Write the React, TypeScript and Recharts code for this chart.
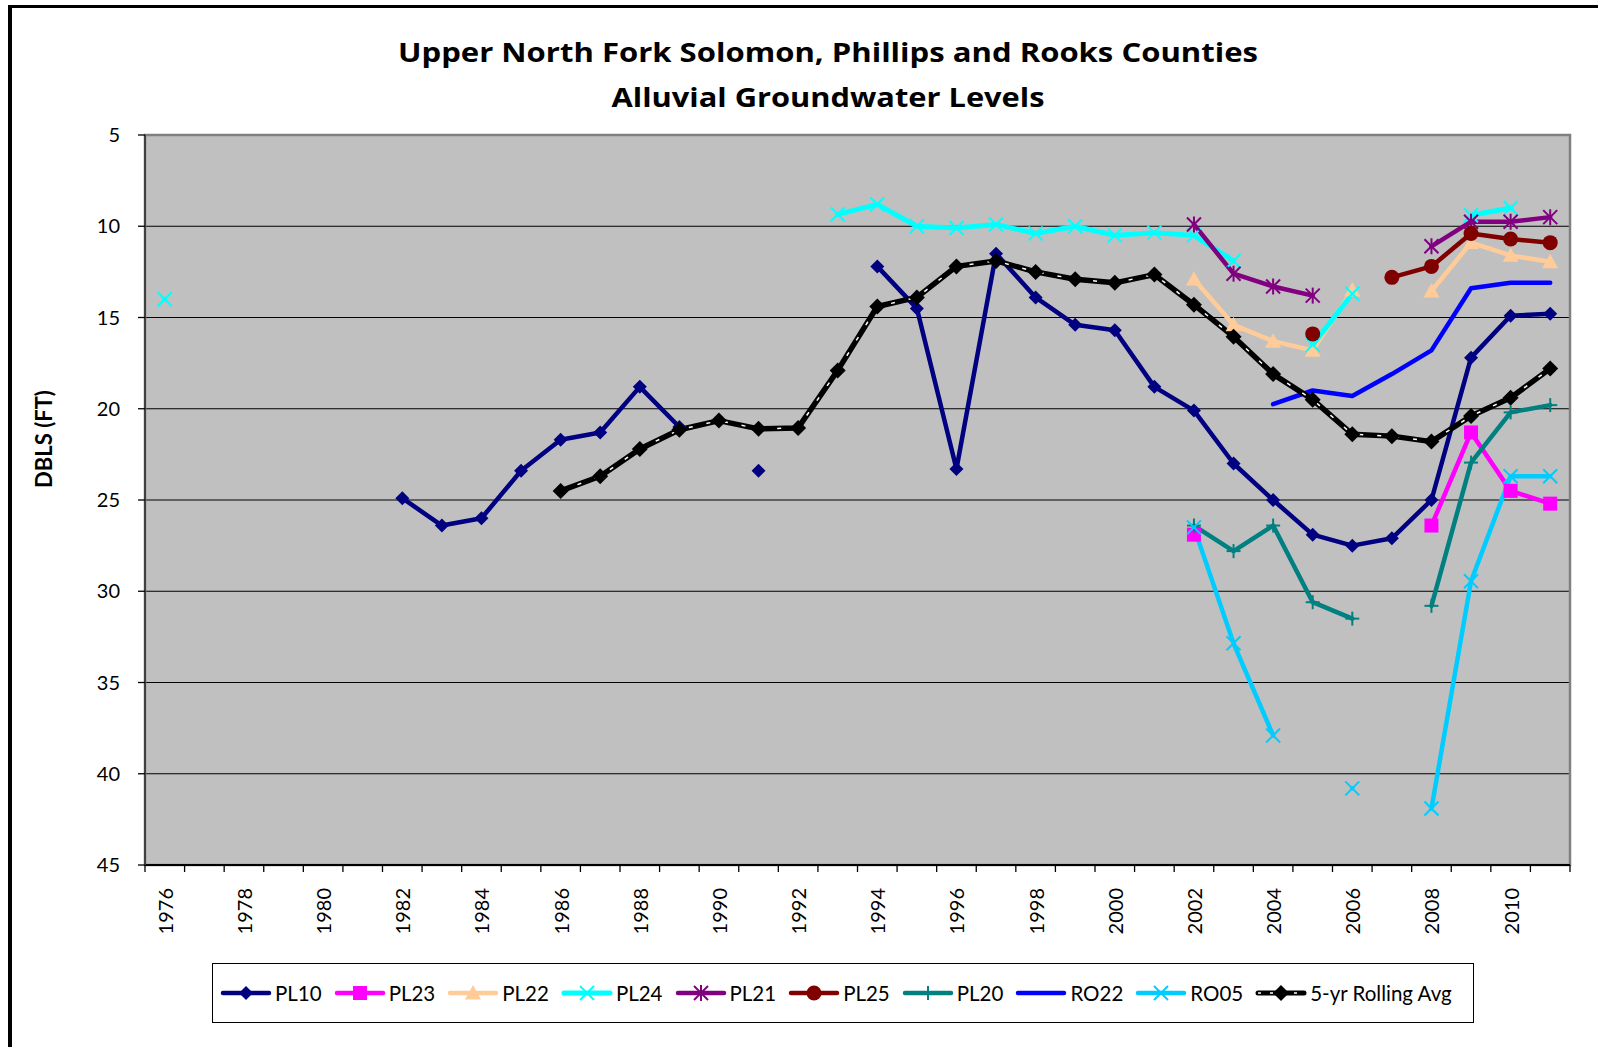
import React from 'react';
import { CartesianGrid, Line, LineChart, ReferenceArea, XAxis, YAxis } from 'recharts';

const years = [
  1976, 1977, 1978, 1979, 1980, 1981, 1982, 1983, 1984, 1985, 1986, 1987,
  1988, 1989, 1990, 1991, 1992, 1993, 1994, 1995, 1996, 1997, 1998, 1999,
  2000, 2001, 2002, 2003, 2004, 2005, 2006, 2007, 2008, 2009, 2010, 2011,
];

const yTicks = [5, 10, 15, 20, 25, 30, 35, 40, 45];

const n = null;

const pl10 = [
  n, n, n, n, n, n,
  24.9, 26.4, 26.0, 23.4,
  21.7, 21.3, 18.8, 21.0,
  n, 23.4, n, n,
  12.2, 14.5, 23.3, 11.5,
  13.9, 15.4, 15.7, 18.8,
  20.1, 23.0, 25.0, 26.9,
  27.5, 27.1, 25.0, 17.2,
  14.9, 14.8,
];

const pl23 = [
  n, n, n, n, n, n, n, n, n, n, n, n, n, n, n, n, n, n, n, n, n, n, n, n, n, n,
  26.9, n, n, n, n, n, 26.4, 21.3, 24.5, 25.2,
];

const pl22 = [
  n, n, n, n, n, n, n, n, n, n, n, n, n, n, n, n, n, n, n, n, n, n, n, n, n, n,
  12.9, 15.4, 16.3, 16.8, 13.5, n, 13.55, 10.9, 11.6, 11.95,
];

const pl24 = [
  14.0,
  n, n, n, n, n, n, n, n, n, n, n, n, n, n, n, n,
  9.35, 8.8, 10.0, 10.1, 9.9, 10.4, 10.0, 10.5, 10.35, 10.5, 11.9,
  n, 16.5, 13.7, n, n, 9.4, 9.0, n,
];

const pl21 = [
  n, n, n, n, n, n, n, n, n, n, n, n, n, n, n, n, n, n, n, n, n, n, n, n, n, n,
  9.9, 12.6, 13.3, 13.8, n, n, 11.1, 9.75, 9.75, 9.5,
];

const pl25 = [
  n, n, n, n, n, n, n, n, n, n, n, n, n, n, n, n, n, n, n, n, n, n, n, n, n, n, n, n, n,
  15.9, n, 12.8, 12.2, 10.4, 10.7, 10.9,
];

const pl20 = [
  n, n, n, n, n, n, n, n, n, n, n, n, n, n, n, n, n, n, n, n, n, n, n, n, n, n,
  26.4, 27.8, 26.4, 30.6, 31.5, n, 30.8, 22.95, 20.2, 19.8,
];

const ro22 = [
  n, n, n, n, n, n, n, n, n, n, n, n, n, n, n, n, n, n, n, n, n, n, n, n, n, n, n, n,
  19.75, 19.0, 19.3, 18.1, 16.8, 13.4, 13.1, 13.1,
];

const ro05 = [
  n, n, n, n, n, n, n, n, n, n, n, n, n, n, n, n, n, n, n, n, n, n, n, n, n, n,
  26.5, 32.85, 37.9, n, 40.8, n, 41.9, 29.45, 23.7, 23.7,
];

const rollingAvg = [
  n, n, n, n, n, n, n, n, n, n,
  24.5, 23.7, 22.2, 21.15, 20.65, 21.1, 21.05, 17.9, 14.4, 13.9, 12.2, 11.9,
  12.5, 12.9, 13.1, 12.65, 14.3, 16.05, 18.1, 19.5, 21.4, 21.5, 21.8, 20.4,
  19.4, 17.8,
];

type Kind = 'diamond' | 'square' | 'triangle' | 'x' | 'star' | 'circle' | 'plus' | 'none';

interface SeriesDef {
  key: string;
  name: string;
  values: (number | null)[];
  color: string;
  width: number;
  marker: Kind;
  size: number;
}

const series: SeriesDef[] = [
  { key: 'pl10', name: 'PL10', values: pl10, color: '#000080', width: 4.5, marker: 'diamond', size: 7 },
  { key: 'pl23', name: 'PL23', values: pl23, color: '#FF00FF', width: 4.5, marker: 'square', size: 7 },
  { key: 'pl22', name: 'PL22', values: pl22, color: '#FFCC99', width: 4.5, marker: 'triangle', size: 8 },
  { key: 'pl24', name: 'PL24', values: pl24, color: '#00FFFF', width: 5, marker: 'x', size: 7 },
  { key: 'pl21', name: 'PL21', values: pl21, color: '#800080', width: 4.5, marker: 'star', size: 7 },
  { key: 'pl25', name: 'PL25', values: pl25, color: '#800000', width: 4.5, marker: 'circle', size: 7.5 },
  { key: 'pl20', name: 'PL20', values: pl20, color: '#008080', width: 4.5, marker: 'plus', size: 7 },
  { key: 'ro22', name: 'RO22', values: ro22, color: '#0000FF', width: 4.5, marker: 'none', size: 0 },
  { key: 'ro05', name: 'RO05', values: ro05, color: '#00CCFF', width: 4.5, marker: 'x', size: 7 },
];

const chartData = years.map((year, i) => {
  const row: Record<string, number | string | null> = { year: String(year), avg: rollingAvg[i] };
  series.forEach((s) => {
    row[s.key] = s.values[i];
  });
  return row;
});

function Marker({ kind, cx, cy, color, size }: { kind: Kind; cx: number; cy: number; color: string; size: number }) {
  const s = size;
  switch (kind) {
    case 'diamond':
      return <polygon points={`${cx},${cy - s} ${cx + s},${cy} ${cx},${cy + s} ${cx - s},${cy}`} fill={color} />;
    case 'square':
      return <rect x={cx - s} y={cy - s} width={2 * s} height={2 * s} fill={color} />;
    case 'triangle':
      return <polygon points={`${cx},${cy - s} ${cx + s},${cy + s * 0.8} ${cx - s},${cy + s * 0.8}`} fill={color} />;
    case 'circle':
      return <circle cx={cx} cy={cy} r={s} fill={color} />;
    case 'x':
      return (
        <g stroke={color} strokeWidth={2}>
          <line x1={cx - s} y1={cy - s} x2={cx + s} y2={cy + s} />
          <line x1={cx - s} y1={cy + s} x2={cx + s} y2={cy - s} />
        </g>
      );
    case 'star':
      return (
        <g stroke={color} strokeWidth={2}>
          <line x1={cx - s} y1={cy - s} x2={cx + s} y2={cy + s} />
          <line x1={cx - s} y1={cy + s} x2={cx + s} y2={cy - s} />
          <line x1={cx} y1={cy - s - 1} x2={cx} y2={cy + s + 1} />
        </g>
      );
    case 'plus':
      return (
        <g stroke={color} strokeWidth={2}>
          <line x1={cx - s} y1={cy} x2={cx + s} y2={cy} />
          <line x1={cx} y1={cy - s} x2={cx} y2={cy + s} />
        </g>
      );
    default:
      return <g />;
  }
}

function makeDot(kind: Kind, color: string, size: number) {
  return (props: any) => {
    const { cx, cy, index, value } = props;
    if (kind === 'none' || value == null || cx == null || cy == null || Number.isNaN(cy)) {
      return <g key={`d-${index}`} />;
    }
    return (
      <g key={`d-${index}`}>
        <Marker kind={kind} cx={cx} cy={cy} color={color} size={size} />
      </g>
    );
  };
}

function YearTick(props: any) {
  const { x, y, payload, index } = props;
  const half = payload?.offset || 19.8;
  const top = y - 23;
  const year = Number(payload.value);
  return (
    <g>
      <line x1={x - half} y1={top} x2={x - half} y2={top + 7} stroke="#000" strokeWidth={1.3} />
      {index === years.length - 1 && (
        <line x1={x + half} y1={top} x2={x + half} y2={top + 7} stroke="#000" strokeWidth={1.3} />
      )}
      {year % 2 === 0 && (
        <text
          x={x}
          y={y}
          transform={`rotate(-90 ${x} ${y})`}
          textAnchor="end"
          dominantBaseline="central"
          fontFamily="Lato"
          fontSize={20}
          fill="#000"
        >
          {payload.value}
        </text>
      )}
    </g>
  );
}

function LegendSwatch({ s }: { s: SeriesDef | null }) {
  if (!s) {
    return (
      <svg width={52} height={22}>
        <line x1={3} y1={11} x2={49} y2={11} stroke="#000" strokeWidth={5} strokeLinecap="round" />
        <line x1={3} y1={11} x2={49} y2={11} stroke="#fff" strokeWidth={1.5} strokeDasharray="3 9" />
        <Marker kind="diamond" cx={26} cy={11} color="#000" size={8} />
      </svg>
    );
  }
  return (
    <svg width={52} height={22}>
      <line x1={3} y1={11} x2={49} y2={11} stroke={s.color} strokeWidth={s.width} strokeLinecap="round" />
      <Marker kind={s.marker} cx={26} cy={11} color={s.color} size={s.size} />
    </svg>
  );
}

export default function App() {
  return (
    <div
      style={{
        position: 'absolute',
        left: 0,
        top: 0,
        width: 1598,
        height: 1047,
        background: '#fff',
        overflow: 'hidden',
        fontFamily: 'Lato, sans-serif',
      }}
    >
      <div
        style={{
          position: 'absolute',
          left: 8,
          top: 5,
          width: 1700,
          height: 1200,
          borderTop: '3px solid #000',
          borderLeft: '4px solid #000',
        }}
      />
      <div style={{ position: 'absolute', left: 0, top: 0 }}>
        <LineChart width={1598} height={1047} data={chartData} margin={{ top: 135, right: 28, bottom: 122, left: 0 }}>
          <CartesianGrid vertical={false} stroke="#000" strokeWidth={1.2} fill="#C0C0C0" fillOpacity={1} />
          <ReferenceArea x1="1976" x2="2011" y1={5} y2={45} fill="none" stroke="#808080" strokeWidth={2.5} ifOverflow="visible" />
          <XAxis
            dataKey="year"
            scale="band"
            interval={0}
            height={60}
            tickSize={6}
            tickMargin={17}
            tickLine={false}
            axisLine={{ stroke: '#000', strokeWidth: 2 }}
            tick={<YearTick />}
          />
          <YAxis
            type="number"
            domain={[5, 45]}
            ticks={yTicks}
            reversed
            allowDataOverflow
            width={145}
            tickSize={7}
            tickMargin={18}
            tick={{ fill: '#000', fontSize: 20, fontFamily: 'Lato' }}
            tickLine={{ stroke: '#000', strokeWidth: 1.3 }}
            axisLine={{ stroke: '#404040', strokeWidth: 2 }}
          />
          {series.map((s) => (
            <Line
              key={s.key}
              dataKey={s.key}
              name={s.name}
              stroke={s.color}
              strokeWidth={s.width}
              strokeLinejoin="round"
              strokeLinecap="round"
              connectNulls={false}
              isAnimationActive={false}
              activeDot={false}
              dot={makeDot(s.marker, s.color, s.size)}
            />
          ))}
          <Line
            dataKey="avg"
            name="5-yr Rolling Avg"
            stroke="#000"
            strokeWidth={5.5}
            strokeLinejoin="round"
            connectNulls={false}
            isAnimationActive={false}
            activeDot={false}
            dot={false}
          />
          <Line
            dataKey="avg"
            legendType="none"
            stroke="#fff"
            strokeWidth={1.5}
            strokeDasharray="4 14"
            connectNulls={false}
            isAnimationActive={false}
            activeDot={false}
            dot={false}
          />
          <Line
            dataKey="avg"
            legendType="none"
            stroke="none"
            connectNulls={false}
            isAnimationActive={false}
            activeDot={false}
            dot={makeDot('diamond', '#000', 8)}
          />
        </LineChart>
      </div>
      <svg style={{ position: 'absolute', left: 0, top: 0, pointerEvents: 'none' }} width={1598} height={1047}>
        <text x={828} y={62} textAnchor="middle" fontFamily="Open Sans" fontWeight="bold" fontSize={27} textLength={860} lengthAdjust="spacingAndGlyphs">
          Upper North Fork Solomon, Phillips and Rooks Counties
        </text>
        <text x={828} y={107} textAnchor="middle" fontFamily="Open Sans" fontWeight="bold" fontSize={27} textLength={433} lengthAdjust="spacingAndGlyphs">
          Alluvial Groundwater Levels
        </text>
        <text
          x={43}
          y={439}
          transform="rotate(-90 43 439)"
          textAnchor="middle"
          dominantBaseline="central"
          fontFamily="Lato"
          fontWeight="bold"
          fontSize={22}
        >
          DBLS (FT)
        </text>
      </svg>
      <div
        style={{
          position: 'absolute',
          left: 212,
          top: 963,
          width: 1262,
          height: 60,
          border: '1.5px solid #000',
          display: 'flex',
          alignItems: 'center',
          paddingLeft: 7,
          boxSizing: 'border-box',
          whiteSpace: 'nowrap',
        }}
      >
        {[...series, null].map((s, i) => (
          <div key={i} style={{ display: 'flex', alignItems: 'center', marginRight: 12, flexShrink: 0 }}>
            <LegendSwatch s={s} />
            <span style={{ fontSize: 20.5, marginLeft: 3, color: '#000' }}>{s ? s.name : '5-yr Rolling Avg'}</span>
          </div>
        ))}
      </div>
    </div>
  );
}
